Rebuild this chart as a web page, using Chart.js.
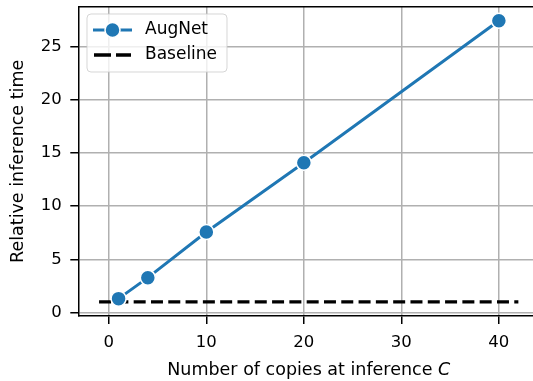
<!DOCTYPE html>
<html>
<head>
<meta charset="utf-8">
<script src="https://cdn.jsdelivr.net/npm/chart.js@4.4.0/dist/chart.umd.min.js"></script>
<style>
  html, body { margin: 0; padding: 0; background: #fff; overflow: hidden; }
  #wrap { width: 533px; height: 381px; }
  canvas { display: block; }
</style>
</head>
<body>
<div id="wrap"><canvas id="c" width="533" height="381"></canvas></div>
<script>
// ---- data ----
const copies = [1, 4, 10, 20, 40];
const augnetTime = [1.31, 3.28, 7.56, 14.06, 27.4];
const baselineX = [-1, 42];
const baselineY = [1, 1];
const xTicks = [0, 10, 20, 30, 40];
const yTicks = [0, 5, 10, 15, 20, 25];
const seriesLabels = ['AugNet', 'Baseline'];
const xTitleMain = 'Number of copies at inference ';
const xTitleItalic = 'C';
const yTitle = 'Relative inference time';

const FONT = "'DejaVu Sans', sans-serif";
const BLUE = '#1f77b4';

const augPts = copies.map((x, i) => ({x: x, y: augnetTime[i]}));
const basePts = baselineX.map((x, i) => ({x: x, y: baselineY[i]}));

const extras = {
  id: 'extras',
  afterDraw(chart) {
    const ctx = chart.ctx;
    const a = chart.chartArea;
    ctx.save();
    // top spine (right spine lies beyond the visible edge)
    ctx.strokeStyle = '#000';
    ctx.lineWidth = 1.5;
    ctx.beginPath();
    ctx.moveTo(a.left, a.top);
    ctx.lineTo(a.right, a.top);
    ctx.stroke();

    // x title with italic C, centred on the full (uncropped) axes
    ctx.fillStyle = '#000';
    ctx.textBaseline = 'alphabetic';
    const fMain = "17.5px " + FONT;
    const fIt = "italic 17.5px " + FONT;
    ctx.font = fMain;
    const w1 = ctx.measureText(xTitleMain).width;
    ctx.font = fIt;
    const w2 = ctx.measureText(xTitleItalic).width;
    const xs = chart.scales.x;
    const cx = (xs.getPixelForValue(-3.15) + xs.getPixelForValue(44.15)) / 2;
    const x0 = cx - (w1 + w2) / 2;
    const by = 375;
    ctx.font = fMain;
    ctx.textAlign = 'left';
    ctx.fillText(xTitleMain, x0, by);
    ctx.font = fIt;
    ctx.fillText(xTitleItalic, x0 + w1, by);

    // legend
    const lx = 87, ly = 14, lw = 140, lh = 58;
    ctx.beginPath();
    ctx.roundRect(lx, ly, lw, lh, 4);
    ctx.fillStyle = 'rgba(255,255,255,0.8)';
    ctx.fill();
    ctx.strokeStyle = 'rgba(204,204,204,0.8)';
    ctx.lineWidth = 1;
    ctx.stroke();

    const ds = chart.data.datasets;
    let yy = 30;
    ctx.strokeStyle = ds[0].borderColor;
    ctx.lineWidth = 3;
    ctx.setLineDash([]);
    ctx.beginPath();
    ctx.moveTo(93, yy); ctx.lineTo(132, yy);
    ctx.stroke();
    ctx.beginPath();
    ctx.arc(112.5, yy, 7.5, 0, Math.PI * 2);
    ctx.fillStyle = ds[0].pointBackgroundColor;
    ctx.fill();
    ctx.strokeStyle = '#fff';
    ctx.lineWidth = 1.5;
    ctx.stroke();
    yy = 55;
    ctx.strokeStyle = ds[1].borderColor;
    ctx.lineWidth = 3.3;
    ctx.beginPath();
    ctx.moveTo(94, yy); ctx.lineTo(111, yy);
    ctx.moveTo(116, yy); ctx.lineTo(131, yy);
    ctx.stroke();

    ctx.fillStyle = '#000';
    ctx.font = "17px " + FONT;
    ctx.textBaseline = 'middle';
    ctx.textAlign = 'left';
    ctx.fillText(ds[0].label, 145, 30);
    ctx.fillText(ds[1].label, 145, 55);
    ctx.restore();
  }
};

new Chart(document.getElementById('c'), {
  type: 'line',
  data: {
    datasets: [
      {
        label: seriesLabels[0],
        data: augPts,
        borderColor: BLUE,
        backgroundColor: BLUE,
        borderWidth: 3,
        pointRadius: 7.5,
        pointHoverRadius: 7.5,
        pointBackgroundColor: BLUE,
        pointBorderColor: '#fff',
        pointBorderWidth: 1.5,
        tension: 0,
        fill: false
      },
      {
        label: seriesLabels[1],
        data: basePts,
        borderColor: '#000',
        backgroundColor: '#000',
        borderWidth: 3.3,
        borderDash: [12, 5.3],
        pointRadius: 0,
        tension: 0,
        fill: false
      }
    ]
  },
  options: {
    responsive: false,
    animation: false,
    devicePixelRatio: 1,
    layout: { autoPadding: false, padding: { left: 0, top: 6.7, right: 0, bottom: 0 } },
    plugins: { legend: { display: false }, tooltip: { enabled: false } },
    scales: {
      x: {
        type: 'linear',
        min: -3.13,
        max: 43.5,
        afterBuildTicks: s => { s.ticks = xTicks.map(v => ({value: v})); },
        afterFit: s => { s.height = 65; s.paddingLeft = 0; s.paddingRight = 0; s.paddingTop = 0; s.paddingBottom = 0; },
        grid: { color: '#b0b0b0', lineWidth: 1.5, tickColor: '#000', tickWidth: 1.5, tickLength: 8 },
        border: { color: '#000', width: 1.5 },
        ticks: { color: '#000', font: { family: FONT, size: 16.5 }, padding: 9, maxRotation: 0, autoSkip: false },
        title: { display: false }
      },
      y: {
        type: 'linear',
        min: -0.32,
        max: 28.72,
        afterBuildTicks: s => { s.ticks = yTicks.map(v => ({value: v})); },
        afterFit: s => { s.width = 78.3; s.paddingLeft = 0; s.paddingRight = 0; s.paddingTop = 0; s.paddingBottom = 0; },
        grid: { color: '#b0b0b0', lineWidth: 1.5, tickColor: '#000', tickWidth: 1.5, tickLength: 8 },
        border: { color: '#000', width: 1.5 },
        ticks: { color: '#000', font: { family: FONT, size: 16.5 }, padding: 8.5, autoSkip: false },
        title: { display: true, text: yTitle, color: '#000', font: { family: FONT, size: 17.5 }, padding: { top: 8, bottom: 0 } }
      }
    }
  },
  plugins: [extras]
});
</script>
</body>
</html>
